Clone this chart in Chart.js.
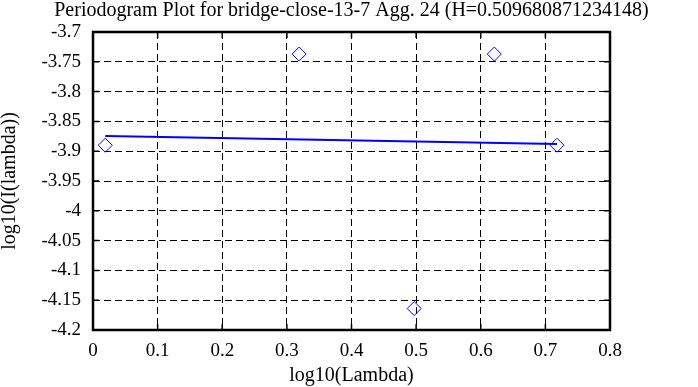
<!DOCTYPE html>
<html>
<head>
<meta charset="utf-8">
<script src="https://cdn.jsdelivr.net/npm/chart.js@4/dist/chart.umd.min.js"></script>
<style>
  body { margin: 0; background: #fff; }
  #wrap { width: 698px; height: 387px; }
</style>
</head>
<body>
<div id="wrap"><canvas id="pgram"></canvas></div>
<script>
// points
const lambdaX = [0.019, 0.319, 0.497, 0.621, 0.718];
const logI = [-3.890, -3.737, -4.164, -3.737, -3.890];

// fitted line end points
const fitX = [0.019, 0.718];
const fitY = [-3.8745, -3.888];

const xTicks = [0, 0.1, 0.2, 0.3, 0.4, 0.5, 0.6, 0.7, 0.8];
const yTicks = [-4.2, -4.15, -4.1, -4.05, -4, -3.95, -3.9, -3.85, -3.8, -3.75, -3.7];

const titulo = "Periodogram Plot for bridge-close-13-7 Agg. 24 (H=0.509680871234148)";

const serif = "'Liberation Serif', 'DejaVu Serif', serif";

Chart.defaults.scale.grid.borderDash = [7, 4];

// frame + inward tick marks + title centred over the plot
const framePlugin = {
    id: "frame",
    afterDraw(chart) {
        const ctx = chart.ctx;
        const a = chart.chartArea;
        const xs = chart.scales.x, ys = chart.scales.y;
        ctx.save();
        ctx.strokeStyle = "#000";
        ctx.lineWidth = 1.5;
        xTicks.forEach(v => {
            const px = xs.getPixelForValue(v);
            ctx.beginPath();
            ctx.moveTo(px, a.bottom); ctx.lineTo(px, a.bottom - 6);
            ctx.moveTo(px, a.top); ctx.lineTo(px, a.top + 6);
            ctx.stroke();
        });
        yTicks.forEach(v => {
            const py = ys.getPixelForValue(v);
            ctx.beginPath();
            ctx.moveTo(a.left, py); ctx.lineTo(a.left + 6, py);
            ctx.moveTo(a.right, py); ctx.lineTo(a.right - 6, py);
            ctx.stroke();
        });
        ctx.lineWidth = 2.5;
        ctx.strokeRect(a.left, a.top, a.right - a.left, a.bottom - a.top);

        ctx.fillStyle = "#000";
        ctx.font = "20px " + serif;
        ctx.textAlign = "center";
        ctx.textBaseline = "middle";
        ctx.fillText(titulo, (a.left + a.right) / 2, 11);
        ctx.restore();
    }
};

new Chart(document.getElementById("pgram"), {
    type: "scatter",
    data: {
        datasets: [
            {
                label: "fit",
                type: "line",
                data: fitX.map((x, i) => ({ x, y: fitY[i] })),
                borderColor: "#0000ff",
                borderWidth: 2,
                pointRadius: 0,
                fill: false
            },
            {
                label: "periodogram",
                data: lambdaX.map((x, i) => ({ x, y: logI[i] })),
                pointStyle: "rectRot",
                pointRadius: 7,
                pointBorderColor: "#0000ff",
                pointBackgroundColor: "rgba(0,0,0,0)",
                pointBorderWidth: 1
            }
        ]
    },
    options: {
        responsive: true,
        maintainAspectRatio: false,
        animation: false,
        layout: { padding: { left: 0, right: 88, top: 32, bottom: 0 } },
        plugins: {
            legend: { display: false },
            tooltip: { enabled: false },
            title: { display: false }
        },
        scales: {
            x: {
                type: "linear",
                min: 0, max: 0.8,
                afterBuildTicks: s => { s.ticks = xTicks.map(v => ({ value: v })); },
                afterFit: s => { s.height = 57; },
                ticks: {
                    color: "#000",
                    font: { family: serif, size: 19, lineHeight: 1 },
                    padding: 12,
                    maxRotation: 0,
                    callback: v => String(v)
                },
                grid: {
                    color: "#000",
                    lineWidth: 1,
                    drawTicks: false
                },
                border: { display: false, dash: [7, 4] },
                title: {
                    display: true,
                    text: "log10(Lambda)",
                    color: "#000",
                    font: { family: serif, size: 20, lineHeight: 1 },
                    padding: { top: 0, bottom: 1 }
                }
            },
            y: {
                type: "linear",
                min: -4.2, max: -3.7,
                afterBuildTicks: s => { s.ticks = yTicks.map(v => ({ value: v })); },
                afterFit: s => { s.width = 93; },
                ticks: {
                    color: "#000",
                    font: { family: serif, size: 19 },
                    padding: 12,
                    callback: v => String(v)
                },
                grid: {
                    color: "#000",
                    lineWidth: 1,
                    drawTicks: false
                },
                border: { display: false, dash: [7, 4] },
                title: {
                    display: true,
                    text: "log10(I(lambda))",
                    color: "#000",
                    font: { family: serif, size: 20, lineHeight: 1 },
                    padding: { top: 0, bottom: 0 }
                }
            }
        }
    },
    plugins: [framePlugin]
});
</script>
</body>
</html>
